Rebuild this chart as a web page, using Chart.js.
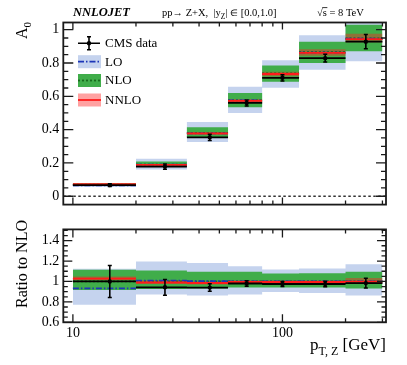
<!DOCTYPE html>
<html>
<head>
<meta charset="utf-8">
<script src="https://cdn.jsdelivr.net/npm/chart.js@4.4.1/dist/chart.umd.min.js"></script>
<style>
  html, body { margin: 0; padding: 0; background: #fff; }
  #wrap { position: relative; width: 407px; height: 365px; }
  canvas { position: absolute; left: 0; }
  #top { top: 0; }
  #bot { top: 217px; }
</style>
</head>
<body>
<div id="wrap">
  <canvas id="top" width="407" height="217"></canvas>
  <canvas id="bot" width="407" height="148"></canvas>
</div>
<script>
// bins in pT,Z [GeV]
const edges = [10, 20, 35, 55, 80, 120, 200, 300];
const centers = [15, 27.5, 45, 67.5, 100, 160, 250];

// A0, upper panel
const cmsA0 = [0.067, 0.178, 0.354, 0.560, 0.711, 0.829, 0.928];
const cmsA0Err = [0.008, 0.016, 0.019, 0.018, 0.019, 0.023, 0.043];
const loA0 = [0.065, 0.190, 0.378, 0.575, 0.735, 0.862, 0.946];
const loA0Lo = [0.055, 0.160, 0.326, 0.500, 0.652, 0.759, 0.810];
const loA0Hi = [0.079, 0.225, 0.446, 0.658, 0.816, 0.966, 1.100];
const nloA0 = [0.070, 0.190, 0.381, 0.576, 0.737, 0.865, 0.947];
const nloA0Lo = [0.065, 0.176, 0.355, 0.535, 0.687, 0.800, 0.870];
const nloA0Hi = [0.078, 0.208, 0.415, 0.620, 0.785, 0.928, 1.030];
const nnloA0 = [0.072, 0.189, 0.377, 0.573, 0.734, 0.861, 0.943];
const nnloA0Lo = [0.070, 0.185, 0.368, 0.562, 0.720, 0.844, 0.924];
const nnloA0Hi = [0.074, 0.193, 0.385, 0.584, 0.748, 0.882, 0.975];

// ratio to NLO, lower panel
const cmsRatio = [1.000, 0.943, 0.940, 0.980, 0.975, 0.975, 0.984];
const cmsRatioErr = [0.156, 0.077, 0.037, 0.027, 0.025, 0.026, 0.047];
const loRatio = [0.932, 1.008, 1.002, 1.000, 1.000, 1.000, 1.000];
const loRatioLo = [0.771, 0.873, 0.862, 0.873, 0.897, 0.888, 0.862];
const loRatioHi = [1.124, 1.196, 1.180, 1.150, 1.118, 1.127, 1.168];
const nloRatio = [1, 1, 1, 1, 1, 1, 1];
const nloRatioLo = [0.917, 0.926, 0.930, 0.940, 0.940, 0.940, 0.932];
const nloRatioHi = [1.115, 1.107, 1.094, 1.094, 1.077, 1.080, 1.094];
const nnloRatio = [1.028, 0.990, 0.985, 0.995, 0.995, 0.995, 0.998];
const nnloRatioLo = [1.013, 0.975, 0.970, 0.980, 0.980, 0.980, 0.984];
const nnloRatioHi = [1.048, 1.010, 1.000, 1.010, 1.010, 1.010, 1.035];

// ticks
const xMajor = [10, 100];
const xMinor = [20, 30, 40, 50, 60, 70, 80, 90, 200, 300];
const topYMajor = [0, 0.2, 0.4, 0.6, 0.8, 1];
const topYMinor = [0.05, 0.1, 0.15, 0.25, 0.3, 0.35, 0.45, 0.5, 0.55, 0.65, 0.7, 0.75, 0.85, 0.9, 0.95];
const ratioYMajor = [0.6, 0.8, 1, 1.2, 1.4];
const ratioYMinor = [0.65, 0.7, 0.75, 0.85, 0.9, 0.95, 1.05, 1.1, 1.15, 1.25, 1.3, 1.35, 1.45, 1.5];
const legendLabels = ['CMS data', 'LO', 'NLO', 'NNLO'];

const LO_BAND = '#c5d3ee', NLO_BAND = '#40ad4a', NNLO_BAND = 'rgba(255,30,30,0.42)';
const LO_LINE = '#1d36b8', NLO_LINE = '#176a1c', NNLO_LINE = '#ff1a1a';
const SERIF = "'Liberation Serif', 'Times New Roman', serif";

// stepped outline for a band edge
function hist(v) {
  return edges.map((x, i) => ({x: x, y: v[Math.min(i, v.length - 1)]}));
}
// one flat piece per bin, broken between bins
function segs(v) {
  const pts = [];
  v.forEach((y, i) => {
    pts.push({x: edges[i], y: y}, {x: edges[i + 1], y: y}, {x: edges[i + 1], y: null});
  });
  return pts;
}
function errBars(v, e) {
  const pts = [];
  v.forEach((y, i) => {
    pts.push({x: centers[i], y: y - e[i]}, {x: centers[i], y: y + e[i]}, {x: centers[i], y: null});
  });
  return pts;
}

function theorySets(p) {
  const band = (data, color, fill, order) => ({
    data: data, stepped: true, fill: fill, backgroundColor: color,
    borderColor: 'transparent', borderWidth: 0, pointRadius: 0, order: order
  });
  const line = (label, data, color, dash, order) => ({
    label: label, data: data, borderColor: color, borderWidth: 1.8, borderDash: dash,
    pointRadius: 0, fill: false, order: order
  });
  return [
    band(hist(p.loHi), LO_BAND, '+1', 10),
    band(hist(p.loLo), LO_BAND, false, 10),
    band(hist(p.nloHi), NLO_BAND, '+1', 9),
    band(hist(p.nloLo), NLO_BAND, false, 9),
    band(hist(p.nnloHi), NNLO_BAND, '+1', 8),
    band(hist(p.nnloLo), NNLO_BAND, false, 8),
    line('NLO', segs(p.nlo), NLO_LINE, [2, 2], 6),
    line('LO', segs(p.lo), LO_LINE, [6, 2, 1.5, 2], 5),
    line('NNLO', segs(p.nnlo), NNLO_LINE, [], 4),
    line('CMS data', segs(p.cms), '#000', [], 3),
    {data: errBars(p.cms, p.err), borderColor: '#000', borderWidth: 1.6, pointRadius: 0, fill: false, order: 2},
    {data: p.cms.flatMap((v, i) => [{x: centers[i], y: v - p.err[i]}, {x: centers[i], y: v + p.err[i]}]),
     showLine: false, pointStyle: 'line', pointRadius: 2, pointBorderWidth: 1.5, pointBorderColor: '#000', order: 1},
    {data: centers.map((x, i) => ({x: x, y: p.cms[i]})), showLine: false, pointRadius: 2.2,
     pointBackgroundColor: '#000', pointBorderColor: '#000', pointBorderWidth: 0, order: 0}
  ];
}

// box with inward ticks on all four sides
const frame = {
  id: 'frame',
  beforeDatasetsDraw(chart, args, o) {
    if (!o.zero) return;
    const {ctx, chartArea: a, scales: {y}} = chart;
    const py = y.getPixelForValue(0);
    ctx.save();
    ctx.strokeStyle = '#333';
    ctx.lineWidth = 1.3;
    ctx.setLineDash([2.5, 2.5]);
    ctx.beginPath();
    ctx.moveTo(a.left, py);
    ctx.lineTo(a.right, py);
    ctx.stroke();
    ctx.restore();
  },
  afterDraw(chart, args, o) {
    const {ctx, chartArea: a, scales: {x, y}} = chart;
    ctx.save();
    ctx.strokeStyle = '#1a1a1a';
    ctx.lineWidth = 1.3;
    ctx.beginPath();
    const xt = (vals, len) => vals.forEach(v => {
      const px = x.getPixelForValue(v);
      ctx.moveTo(px, a.bottom); ctx.lineTo(px, a.bottom - len);
      ctx.moveTo(px, a.top); ctx.lineTo(px, a.top + len);
    });
    const yt = (vals, len) => vals.forEach(v => {
      const py = y.getPixelForValue(v);
      if (py < a.top || py > a.bottom) return;
      ctx.moveTo(a.left, py); ctx.lineTo(a.left + len, py);
      ctx.moveTo(a.right, py); ctx.lineTo(a.right - len, py);
    });
    xt(xMajor, o.xMajorLen);
    xt(xMinor, o.xMinorLen);
    yt(o.yMajor, o.yMajorLen);
    yt(o.yMinor, o.yMinorLen);
    ctx.stroke();
    ctx.lineWidth = 1.8;
    ctx.strokeRect(a.left, a.top, a.width, a.height);
    ctx.restore();
  }
};

// draw text pieces one after another: [text, size, dy]
function runs(ctx, x, y, parts) {
  parts.forEach(([t, size, dy]) => {
    ctx.font = size + 'px ' + SERIF;
    ctx.fillText(t, x, y + dy);
    x += ctx.measureText(t).width;
  });
  return x;
}

const topText = {
  id: 'topText',
  afterDraw(chart) {
    const ctx = chart.ctx;
    ctx.save();
    ctx.fillStyle = '#000';
    ctx.textBaseline = 'alphabetic';
    ctx.textAlign = 'left';
    ctx.font = 'bold italic 12.5px ' + SERIF;
    ctx.fillText('NNLOJET', 73, 16);
    runs(ctx, 162, 16, [['pp\u2192 Z+X,  |y', 10.5, 0], ['Z', 7.5, 2.5], ['| ', 10.5, 0],
      ['\u2208', 8.5, -0.5], [' [0.0,1.0]', 10.5, 0]]);
    let sx = runs(ctx, 317, 16, [['\u221A', 10.5, 0]]);
    const ex = runs(ctx, sx, 16, [['s', 10.5, 0]]);
    runs(ctx, ex, 16, [[' = 8 TeV', 10.5, 0]]);
    ctx.strokeStyle = '#000';
    ctx.lineWidth = 0.8;
    ctx.beginPath();
    ctx.moveTo(sx - 0.5, 7.6); ctx.lineTo(ex + 0.5, 7.6);
    ctx.stroke();

    // A0 axis title
    ctx.save();
    ctx.translate(27, 39);
    ctx.rotate(-Math.PI / 2);
    runs(ctx, 0, 0, [['A', 16, 0], ['0', 11, 3.5]]);
    ctx.restore();

    // legend
    const rows = [43.3, 61.7, 80.5, 100];
    const bx = 78, bw = 23, bh = 13;
    ctx.lineWidth = 1.6;
    ctx.strokeStyle = '#000';
    ctx.beginPath();
    ctx.moveTo(bx, rows[0]); ctx.lineTo(bx + 22, rows[0]);
    ctx.moveTo(bx + 11, rows[0] - 6.5); ctx.lineTo(bx + 11, rows[0] + 6.5);
    ctx.moveTo(bx + 9, rows[0] - 6.5); ctx.lineTo(bx + 13, rows[0] - 6.5);
    ctx.moveTo(bx + 9, rows[0] + 6.5); ctx.lineTo(bx + 13, rows[0] + 6.5);
    ctx.stroke();
    ctx.beginPath();
    ctx.arc(bx + 11, rows[0], 2.2, 0, Math.PI * 2);
    ctx.fill();
    const keys = [[LO_BAND, LO_LINE, [6, 2, 1.5, 2]], [NLO_BAND, NLO_LINE, [2, 2]], [NNLO_BAND, NNLO_LINE, []]];
    keys.forEach(([band, col, dash], i) => {
      const cy = rows[i + 1];
      ctx.fillStyle = band;
      ctx.fillRect(bx, cy - bh / 2, bw, bh);
      ctx.strokeStyle = col;
      ctx.lineWidth = 1.8;
      ctx.setLineDash(dash);
      ctx.beginPath();
      ctx.moveTo(bx, cy); ctx.lineTo(bx + bw, cy);
      ctx.stroke();
      ctx.setLineDash([]);
    });
    ctx.fillStyle = '#000';
    ctx.font = '13px ' + SERIF;
    ctx.textBaseline = 'middle';
    legendLabels.forEach((t, i) => ctx.fillText(t, 105, rows[i] + 0.5));
    ctx.restore();
  }
};

const botText = {
  id: 'botText',
  afterDraw(chart) {
    const ctx = chart.ctx;
    ctx.save();
    ctx.fillStyle = '#000';
    ctx.textBaseline = 'alphabetic';
    ctx.save();
    ctx.translate(27, 47);
    ctx.rotate(-Math.PI / 2);
    ctx.textAlign = 'center';
    ctx.font = '16px ' + SERIF;
    ctx.fillText('Ratio to NLO', 0, 0);
    ctx.restore();
    const parts = [['p', 17, 0], ['T, Z', 12, 4.5], [' [GeV]', 17, 0]];
    let w = 0;
    parts.forEach(([t, s]) => { ctx.font = s + 'px ' + SERIF; w += ctx.measureText(t).width; });
    runs(ctx, 386 - w, 133, parts);
    ctx.restore();
  }
};

const yAxis = (min, max, ticks) => ({
  min: min, max: max,
  afterFit: s => { s.width = 63.3; },
  afterBuildTicks: s => { s.ticks = ticks.map(v => ({value: v})); },
  grid: {display: false, drawTicks: false},
  border: {display: false},
  ticks: {font: {family: SERIF, size: 14}, color: '#000', padding: 4, callback: v => String(v)}
});

new Chart(document.getElementById('top'), {
  type: 'line',
  data: {datasets: theorySets({
    cms: cmsA0, err: cmsA0Err,
    lo: loA0, loLo: loA0Lo, loHi: loA0Hi,
    nlo: nloA0, nloLo: nloA0Lo, nloHi: nloA0Hi,
    nnlo: nnloA0, nnloLo: nnloA0Lo, nnloHi: nnloA0Hi
  })},
  options: {
    responsive: false, animation: false, events: [],
    layout: {padding: {left: 0, right: 21, top: 22.5, bottom: 3}},
    scales: {
      x: {type: 'logarithmic', min: 9, max: 312, display: false},
      y: yAxis(-0.05, 1.043, topYMajor)
    },
    plugins: {
      legend: {display: false}, tooltip: {enabled: false},
      frame: {yMajor: topYMajor, yMinor: topYMinor, xMajorLen: 7, xMinorLen: 4, yMajorLen: 10, yMinorLen: 5, zero: true}
    }
  },
  plugins: [frame, topText]
});

new Chart(document.getElementById('bot'), {
  type: 'line',
  data: {datasets: theorySets({
    cms: cmsRatio, err: cmsRatioErr,
    lo: loRatio, loLo: loRatioLo, loHi: loRatioHi,
    nlo: nloRatio, nloLo: nloRatioLo, nloHi: nloRatioHi,
    nnlo: nnloRatio, nnloLo: nnloRatioLo, nnloHi: nnloRatioHi
  })},
  options: {
    responsive: false, animation: false, events: [],
    layout: {padding: {left: 0, right: 21, top: 1, bottom: 0}},
    scales: {
      x: {
        type: 'logarithmic', min: 9, max: 312,
        afterFit: s => { s.height = 42.7; },
        afterBuildTicks: s => { s.ticks = xMajor.map(v => ({value: v})); },
        grid: {display: false, drawTicks: false},
        border: {display: false},
        ticks: {font: {family: SERIF, size: 14}, color: '#000', padding: 3, maxRotation: 0, autoSkip: false, callback: v => String(v)}
      },
      y: yAxis(0.6, 1.51, ratioYMajor)
    },
    plugins: {
      legend: {display: false}, tooltip: {enabled: false},
      frame: {yMajor: ratioYMajor, yMinor: ratioYMinor, xMajorLen: 8, xMinorLen: 4, yMajorLen: 9, yMinorLen: 4.5}
    }
  },
  plugins: [frame, botText]
});
</script>
</body>
</html>
